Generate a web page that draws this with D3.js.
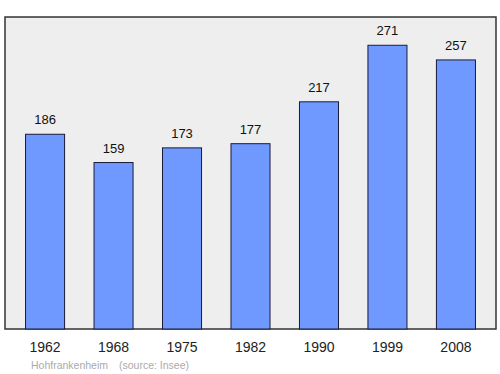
<!DOCTYPE html>
<html>
<head>
<meta charset="utf-8">
<script src="https://cdn.jsdelivr.net/npm/d3@7"></script>
<style>
  body { margin: 0; background: #fff; }
  text { font-family: "Liberation Sans", Arial, sans-serif; }
</style>
</head>
<body>
<script>
var years = ["1962", "1968", "1975", "1982", "1990", "1999", "2008"];
var population = [186, 159, 173, 177, 217, 271, 257];
var commune = "Hohfrankenheim";
var source = "(source: Insee)";

var width = 500, height = 374;
var plotLeft = 5, plotRight = 496, plotTop = 17, plotBottom = 329;

var svg = d3.select("body").append("svg")
    .attr("width", width)
    .attr("height", height);

svg.append("rect")
    .attr("x", plotLeft)
    .attr("y", plotTop)
    .attr("width", plotRight - plotLeft)
    .attr("height", plotBottom - plotTop)
    .attr("fill", "#eeeeee")
    .attr("stroke", "#333")
    .attr("stroke-width", 1.5);

var x = d3.scaleBand()
    .domain(years)
    .range([plotLeft, plotRight])
    .paddingInner(0.43)
    .paddingOuter(0.3);

var y = d3.scaleLinear()
    .domain([0, 298])
    .range([plotBottom, plotTop]);

var data = years.map(function (d, i) { return { year: d, value: population[i] }; });

svg.append("g").selectAll("rect")
    .data(data)
    .enter().append("rect")
    .attr("x", function (d) { return x(d.year); })
    .attr("y", function (d) { return y(d.value); })
    .attr("width", x.bandwidth())
    .attr("height", function (d) { return y(0) - y(d.value); })
    .attr("fill", "#7099ff")
    .attr("stroke", "#1a1a3a")
    .attr("stroke-width", 1);

svg.append("g").selectAll("text")
    .data(data)
    .enter().append("text")
    .attr("x", function (d) { return x(d.year) + x.bandwidth() / 2; })
    .attr("y", function (d) { return y(d.value) - 10; })
    .attr("text-anchor", "middle")
    .attr("font-size", 13)
    .attr("fill", "#111")
    .text(function (d) { return d.value; });

svg.append("g").selectAll("text")
    .data(years)
    .enter().append("text")
    .attr("x", function (d) { return x(d) + x.bandwidth() / 2; })
    .attr("y", 352)
    .attr("text-anchor", "middle")
    .attr("font-size", 14)
    .attr("fill", "#222")
    .text(function (d) { return d; });

svg.append("text")
    .attr("x", 31)
    .attr("y", 369)
    .attr("font-size", 10.5)
    .attr("fill", "#aaa")
    .text(commune);

svg.append("text")
    .attr("x", 119)
    .attr("y", 369)
    .attr("font-size", 10.5)
    .attr("fill", "#aaa")
    .text(source);
</script>
</body>
</html>
